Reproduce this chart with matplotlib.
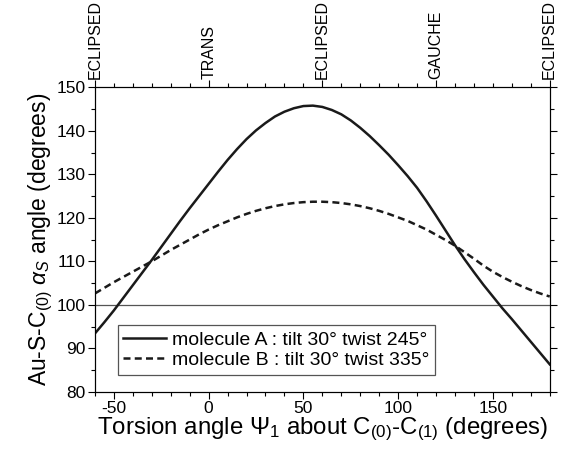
import matplotlib
matplotlib.use("Agg")
import matplotlib.pyplot as plt
from matplotlib.ticker import MultipleLocator

plt.rcParams['font.family'] = ['Liberation Sans', 'DejaVu Sans']
plt.rcParams['mathtext.fontset'] = 'custom'
plt.rcParams['mathtext.rm'] = 'Liberation Sans'
plt.rcParams['mathtext.it'] = 'Liberation Sans:italic'
plt.rcParams['axes.unicode_minus'] = False

# Data (5 degree steps)
psi = list(range(-60, 181, 5))
mol_a = [93.4, 96.0, 98.7, 101.6, 104.5, 107.4, 110.3, 113.3, 116.3, 119.3,
         122.2, 125.0, 127.8, 130.6, 133.3, 135.8, 138.1, 140.1, 141.8, 143.3,
         144.4, 145.2, 145.7, 145.8, 145.5, 144.8, 143.8, 142.4, 140.7, 138.8,
         136.7, 134.5, 132.1, 129.6, 126.9, 123.8, 120.5, 117.1, 113.7, 110.5,
         107.5, 104.6, 101.9, 99.2, 96.7, 94.1, 91.5, 88.9, 86.3]
mol_b = [102.6, 103.9, 105.2, 106.4, 107.6, 108.8, 110.0, 111.3, 112.6, 113.8,
         115.0, 116.2, 117.3, 118.3, 119.2, 120.1, 120.9, 121.6, 122.2, 122.7,
         123.1, 123.4, 123.6, 123.7, 123.7, 123.6, 123.4, 123.1, 122.7, 122.2,
         121.6, 120.9, 120.1, 119.3, 118.3, 117.3, 116.1, 114.9, 113.6, 112.1,
         110.6, 109.0, 107.6, 106.4, 105.3, 104.3, 103.4, 102.6, 101.9]
conf_pos = [-60, 0, 60, 120, 180]
conf_labels = ["ECLIPSED", "TRANS", "ECLIPSED", "GAUCHE", "ECLIPSED"]

fig = plt.figure(figsize=(5.65, 4.55), dpi=100)
ax = fig.add_axes([0.168, 0.139, 0.805, 0.669])

ax.axhline(100, color='#555555', lw=0.9, zorder=1)
ax.plot(psi, mol_a, color='#1a1a1a', lw=1.8, label="molecule A : tilt 30\u00b0 twist 245\u00b0")
ax.plot(psi, mol_b, color='#1a1a1a', lw=1.8, ls=(0, (2.8, 1.7)),
        label="molecule B : tilt 30\u00b0 twist 335\u00b0")

ax.set_xlim(-60, 180)
ax.set_ylim(80, 150)
ax.xaxis.set_major_locator(MultipleLocator(50))
ax.xaxis.set_minor_locator(MultipleLocator(10))
ax.yaxis.set_major_locator(MultipleLocator(10))
ax.yaxis.set_minor_locator(MultipleLocator(5))
ax.tick_params(which='both', direction='out', right=True, labelsize=12.5, pad=1.5, width=0.8)
ax.tick_params(which='major', length=5)
ax.tick_params(which='minor', length=3)

ax.set_xlabel(r"Torsion angle $\Psi_1$ about C$_{(0)}$-C$_{(1)}$ (degrees)",
              fontsize=17.3, labelpad=0)
ax.set_ylabel(r"Au-S-C$_{(0)}$ $\alpha_S$ angle (degrees)", fontsize=16.5, labelpad=1)

top = ax.twiny()
top.set_xlim(ax.get_xlim())
top.set_xticks(conf_pos)
top.set_xticklabels(conf_labels, rotation=90, fontsize=11.5)
top.xaxis.set_minor_locator(MultipleLocator(10))
top.tick_params(which='major', direction='out', length=5, pad=1, width=0.8)
top.tick_params(which='minor', direction='out', length=3, width=0.8)

leg = ax.legend(loc='lower left', bbox_to_anchor=(0.05, 0.055), fontsize=14,
                fancybox=False, framealpha=1, edgecolor='#555555',
                handlelength=2.2, handletextpad=0.3, borderpad=0.3,
                labelspacing=0.15, borderaxespad=0)
leg.get_frame().set_linewidth(0.9)

fig.savefig("out.png", dpi=100)
